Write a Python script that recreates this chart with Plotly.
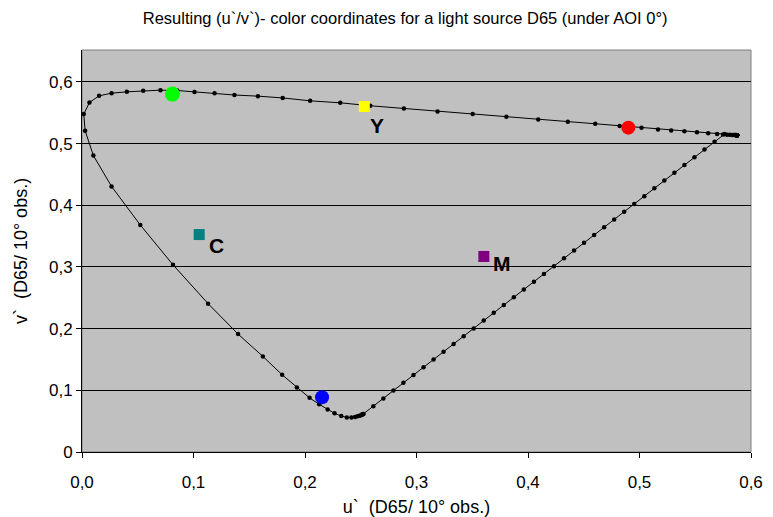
import plotly.graph_objects as go

# Spectral locus (u', v'), 380 nm -> 780 nm
locus_u = [0.2523, 0.2519, 0.2511, 0.2503, 0.2488, 0.2471, 0.2449, 0.2416, 0.2375, 0.2325,
           0.2265, 0.2203, 0.2127, 0.2041, 0.1927, 0.1795, 0.1622, 0.1400, 0.1131, 0.0816,
           0.0523, 0.0265, 0.0102, 0.0028, 0.0016, 0.0067, 0.0153, 0.0265, 0.0402, 0.0549,
           0.0704, 0.0855, 0.1009, 0.1189, 0.1367, 0.1578, 0.1800, 0.2046, 0.2316, 0.2585,
           0.2887, 0.3189, 0.3504, 0.3806, 0.4092, 0.4357, 0.4603, 0.4822, 0.5018, 0.5166,
           0.5284, 0.5403, 0.5516, 0.5616, 0.5696, 0.5750, 0.5785, 0.5810, 0.5830, 0.5845,
           0.5855, 0.5862, 0.5867, 0.5870, 0.5872, 0.5873, 0.5874, 0.5874, 0.5875, 0.5875,
           0.5875, 0.5875, 0.5875, 0.5875, 0.5875, 0.5875, 0.5875, 0.5875, 0.5875, 0.5875,
           0.5875]
locus_v = [0.0617, 0.0611, 0.0608, 0.0596, 0.0587, 0.0578, 0.0568, 0.0559, 0.0561, 0.0583,
           0.0627, 0.0687, 0.0773, 0.0878, 0.1045, 0.1252, 0.1550, 0.1911, 0.2405, 0.3035,
           0.3680, 0.4305, 0.4806, 0.5209, 0.5478, 0.5666, 0.5774, 0.5817, 0.5839, 0.5858,
           0.5866, 0.5860, 0.5836, 0.5817, 0.5787, 0.5769, 0.5740, 0.5693, 0.5661, 0.5613,
           0.5569, 0.5521, 0.5479, 0.5435, 0.5389, 0.5354, 0.5322, 0.5285, 0.5258, 0.5230,
           0.5214, 0.5198, 0.5182, 0.5166, 0.5155, 0.5148, 0.5145, 0.5143, 0.5141, 0.5140,
           0.5139, 0.5138, 0.5138, 0.5137, 0.5137, 0.5137, 0.5137, 0.5137, 0.5137, 0.5137,
           0.5137, 0.5137, 0.5137, 0.5137, 0.5137, 0.5137, 0.5137, 0.5137, 0.5137, 0.5137,
           0.5137]

# Line of purples (red end -> violet end), dots
purple_u = [0.5764, 0.5673, 0.5583, 0.5493, 0.5403, 0.5313, 0.5223, 0.5133, 0.5043, 0.4953,
            0.4863, 0.4773, 0.4683, 0.4593, 0.4503, 0.4413, 0.4323, 0.4233, 0.4143, 0.4053,
            0.3963, 0.3873, 0.3783, 0.3693, 0.3603, 0.3513, 0.3423, 0.3333, 0.3243, 0.3153,
            0.3063, 0.2973, 0.2883, 0.2793, 0.2703, 0.2613, 0.2523]
purple_v = [0.5155, 0.5030, 0.4904, 0.4778, 0.4652, 0.4526, 0.4400, 0.4274, 0.4148, 0.4022,
            0.3896, 0.3770, 0.3643, 0.3517, 0.3391, 0.3265, 0.3139, 0.3013, 0.2887, 0.2761,
            0.2635, 0.2509, 0.2382, 0.2256, 0.2130, 0.2004, 0.1878, 0.1752, 0.1626, 0.1500,
            0.1374, 0.1248, 0.1121, 0.0995, 0.0869, 0.0743, 0.0617]

# Highlighted colour points
circle_u = [0.0811, 0.4900, 0.2153]
circle_v = [0.5802, 0.5258, 0.0888]
circle_colors = ["#00FF00", "#FF0000", "#0000FF"]

square_names = ["Y", "C", "M"]
square_u = [0.2532, 0.1051, 0.3604]
square_v = [0.5601, 0.3525, 0.3170]
square_colors = ["#FFFF00", "#008080", "#800080"]

x_ticks = [0.0, 0.1, 0.2, 0.3, 0.4, 0.5, 0.6]
x_ticktext = ["0,0", "0,1", "0,2", "0,3", "0,4", "0,5", "0,6"]
y_ticks = [0.0, 0.1, 0.2, 0.3, 0.4, 0.5, 0.6]
y_ticktext = ["0", "0,1", "0,2", "0,3", "0,4", "0,5", "0,6"]

FONT = "Liberation Sans, Arial, sans-serif"

fig = go.Figure()
fig.add_trace(go.Scatter(x=locus_u, y=locus_v, mode="lines+markers",
                         line=dict(color="black", width=1),
                         marker=dict(color="black", size=4.5, symbol="circle"),
                         hoverinfo="skip", showlegend=False))
fig.add_trace(go.Scatter(x=purple_u, y=purple_v, mode="lines+markers",
                         line=dict(color="black", width=1),
                         marker=dict(color="black", size=4.5, symbol="circle"),
                         hoverinfo="skip", showlegend=False))
fig.add_trace(go.Scatter(x=circle_u, y=circle_v, mode="markers",
                         marker=dict(color=circle_colors, size=[15, 14, 14], symbol="circle",
                                     opacity=1, line=dict(width=0)),
                         showlegend=False))
fig.add_trace(go.Scatter(x=square_u, y=square_v, mode="markers",
                         marker=dict(color=square_colors, size=11, symbol="square",
                                     opacity=1, line=dict(width=0)),
                         showlegend=False))

label_shift = {"Y": (13, -19), "C": (17, -11), "M": (18, -7)}
for name, u, v in zip(square_names, square_u, square_v):
    dx, dy = label_shift[name]
    fig.add_annotation(x=u, y=v, text="<b>%s</b>" % name, showarrow=False,
                       xshift=dx, yshift=dy,
                       font=dict(family=FONT, size=21, color="black"))

fig.update_layout(
    width=773, height=517,
    margin=dict(l=68, r=30, t=42, b=69),
    paper_bgcolor="white",
    plot_bgcolor="#C0C0C0",
    title=dict(text="Resulting (u`/v`)- color coordinates for a light source D65 (under AOI 0°)",
               x=0.483, xref="paper", y=1 - 10 / 517, yref="container",
               xanchor="center", yanchor="middle",
               font=dict(family=FONT, size=16.5, color="black")),
    font=dict(family=FONT, color="black"),
    xaxis=dict(range=[0, 0.6], tickvals=x_ticks, ticktext=x_ticktext,
               showgrid=False, zeroline=False,
               showline=True, linecolor="black", linewidth=1,
               ticks="outside", ticklen=5, tickcolor="black",
               ticklabelstandoff=10,
               tickfont=dict(family=FONT, size=17),
               title=dict(text="u`  (D65/ 10° obs.)", font=dict(family=FONT, size=18),
                          standoff=8),
               mirror=False),
    yaxis=dict(range=[0, 0.6517], tickvals=y_ticks, ticktext=y_ticktext,
               showgrid=True, gridcolor="black", gridwidth=1, zeroline=False,
               showline=True, linecolor="black", linewidth=1,
               ticks="outside", ticklen=5, tickcolor="black",
               tickfont=dict(family=FONT, size=17),
               title=dict(text="v`  (D65/ 10° obs.)", font=dict(family=FONT, size=18),
                          standoff=16)),
    shapes=[dict(type="rect", xref="paper", yref="paper", x0=0, y0=0, x1=1, y1=1,
                 line=dict(color="#808080", width=1), layer="below")],
)

fig.write_html("out.html")
